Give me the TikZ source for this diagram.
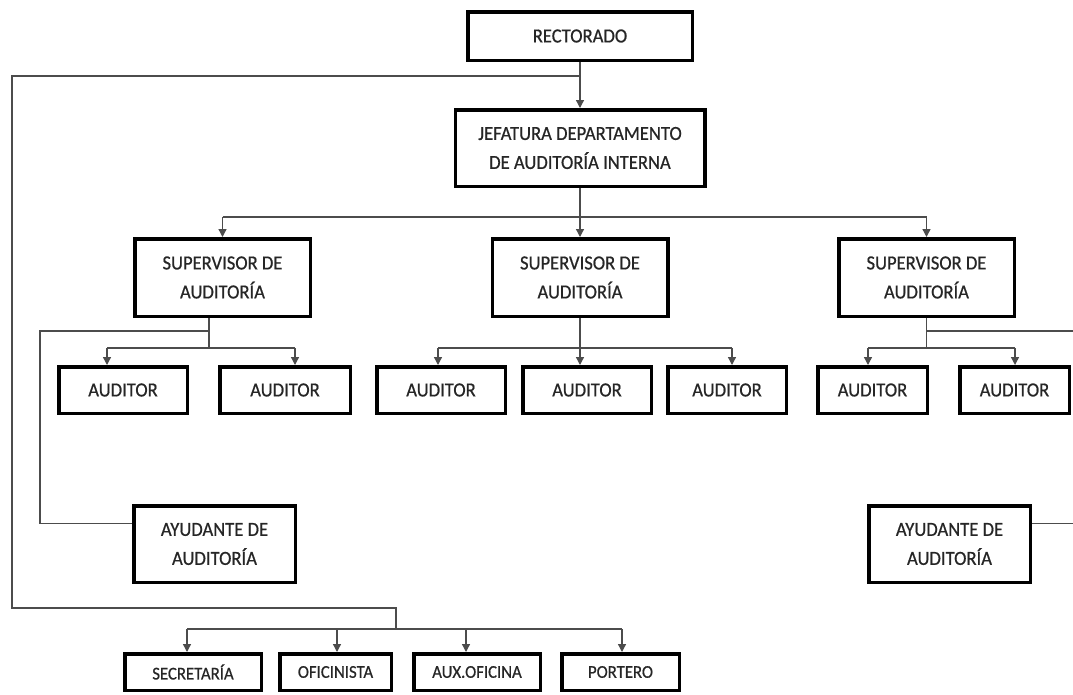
\documentclass[tikz,border=0pt]{standalone}
\usepackage{fontspec}
\setmainfont{Carlito}
\newfontfamily\boxfont{Carlito}[FakeStretch=0.93,FakeBold=0.6]
\usetikzlibrary{arrows.meta,calc}
\begin{document}
\begin{tikzpicture}[x=1pt,y=-1pt,
  box/.style={draw=black,line width=3.5pt,fill=white,text=black!85,align=center,inner sep=0pt,font=\boxfont\fontsize{20}{29}\selectfont},
  smallbox/.style={box,font=\boxfont\fontsize{18}{20}\selectfont},
  conn/.style={draw=black!70,line width=1.3pt},
  arr/.style={conn,-{Triangle[length=8pt,width=8pt]}},
]
\useasboundingbox (0,0) rectangle (1073,694);
\clip (0,0) rectangle (1073,694);
\fill[white] (0,0) rectangle (1073,694);

% nodes
\node[box,minimum width=224.5,minimum height=48.5] (rect) at (580,36) {RECTORADO};
\node[box,minimum width=249.5,minimum height=76.5] (jef) at (580,148) {JEFATURA DEPARTAMENTO\\DE AUDITORÍA INTERNA};

\node[box,minimum width=175.5,minimum height=77.5] (s1) at (222.5,277.5) {SUPERVISOR DE\\AUDITORÍA};
\node[box,minimum width=175.5,minimum height=77.5] (s2) at (580,277.5) {SUPERVISOR DE\\AUDITORÍA};
\node[box,minimum width=175.5,minimum height=77.5] (s3) at (926.5,277.5) {SUPERVISOR DE\\AUDITORÍA};

\node[box,minimum width=128.5,minimum height=46.5] (a1) at (123,390) {AUDITOR};
\node[box,minimum width=130.5,minimum height=46.5] (a2) at (285,390) {AUDITOR};
\node[box,minimum width=128.5,minimum height=46.5] (a3) at (441,390) {AUDITOR};
\node[box,minimum width=128.5,minimum height=46.5] (a4) at (587,390) {AUDITOR};
\node[box,minimum width=118.5,minimum height=46.5] (a5) at (727,390) {AUDITOR};
\node[box,minimum width=109.5,minimum height=46.5] (a6) at (872.5,390) {AUDITOR};
\node[box,minimum width=109.5,minimum height=46.5] (a7) at (1014.5,390) {AUDITOR};

\node[box,minimum width=161.5,minimum height=76.5] (y1) at (214.5,544) {AYUDANTE DE\\AUDITORÍA};
\node[box,minimum width=161.5,minimum height=76.5] (y2) at (949.5,544) {AYUDANTE DE\\AUDITORÍA};

\node[smallbox,minimum width=136.5,minimum height=36.5] (sec) at (193,672) {SECRETARÍA};
\node[smallbox,minimum width=111.5,minimum height=36.5] (ofi) at (335.5,672) {OFICINISTA};
\node[smallbox,minimum width=126.5,minimum height=36.5] (aux) at (477,672) {AUX.OFICINA};
\node[smallbox,minimum width=117.5,minimum height=36.5] (por) at (620.5,672) {PORTERO};

% coordinates
\coordinate (busA) at (0,217);
\coordinate (busL) at (0,348);
\coordinate (lt) at (12,76);
\coordinate (lb) at (12,608);
\coordinate (sb) at (396,608);
\coordinate (busS) at (396,629);
\coordinate (ll) at (40,331);
\coordinate (rr) at (1078,331);
\coordinate (y1L) at ($(y1.north west)!0.24!(y1.south west)$);
\coordinate (y2R) at ($(y2.north east)!0.24!(y2.south east)$);
\coordinate (s1b) at ([xshift=-13.5pt]s1.south);
\coordinate (a1T) at ([xshift=-16pt]a1.north);
\coordinate (a2T) at ([xshift=10pt]a2.north);
\coordinate (a3T) at ([xshift=-3pt]a3.north);
\coordinate (a4T) at ([xshift=-7pt]a4.north);
\coordinate (a5T) at ([xshift=5pt]a5.north);
\coordinate (a6T) at ([xshift=-4.5pt]a6.north);
\coordinate (a7T) at ([xshift=0.5pt]a7.north);
\coordinate (secT) at ([xshift=-6pt]sec.north);
\coordinate (ofiT) at ([xshift=1.5pt]ofi.north);
\coordinate (auxT) at ([xshift=-11pt]aux.north);
\coordinate (porT) at ([xshift=1.5pt]por.north);

% rectorado -> jefatura
\draw[arr] (rect.south) -- (jef.north);
% staff branch
\draw[conn] (rect.south |- lt) -- (lt) -- (lb) -- (sb) -- (busS);
\draw[conn] (secT |- busS) -- (porT |- busS);
\foreach \t in {secT,ofiT,auxT,porT} \draw[arr] (\t |- busS) -- (\t);

% jefatura -> supervisors
\draw[conn] (jef.south) -- (jef.south |- busA);
\draw[conn] (s1.north |- busA) -- (s3.north |- busA);
\foreach \s in {s1,s2,s3} \draw[arr] (\s.north |- busA) -- (\s.north);

% left group
\draw[conn] (s1b) -- (s1b |- busL);
\draw[conn] (a1T |- busL) -- (a2T |- busL);
\foreach \t in {a1T,a2T} \draw[arr] (\t |- busL) -- (\t);
\draw[conn] (s1b |- ll) -- (ll) |- (y1L);

% middle group
\draw[conn] (s2.south) -- (s2.south |- busL);
\draw[conn] (a3T |- busL) -- (a5T |- busL);
\foreach \t in {a3T,a4T,a5T} \draw[arr] (\t |- busL) -- (\t);

% right group
\draw[conn] (s3.south) -- (s3.south |- busL);
\draw[conn] (a6T |- busL) -- (a7T |- busL);
\foreach \t in {a6T,a7T} \draw[arr] (\t |- busL) -- (\t);
\draw[conn] (s3.south |- rr) -- (rr) |- (y2R);
\end{tikzpicture}
\end{document}
